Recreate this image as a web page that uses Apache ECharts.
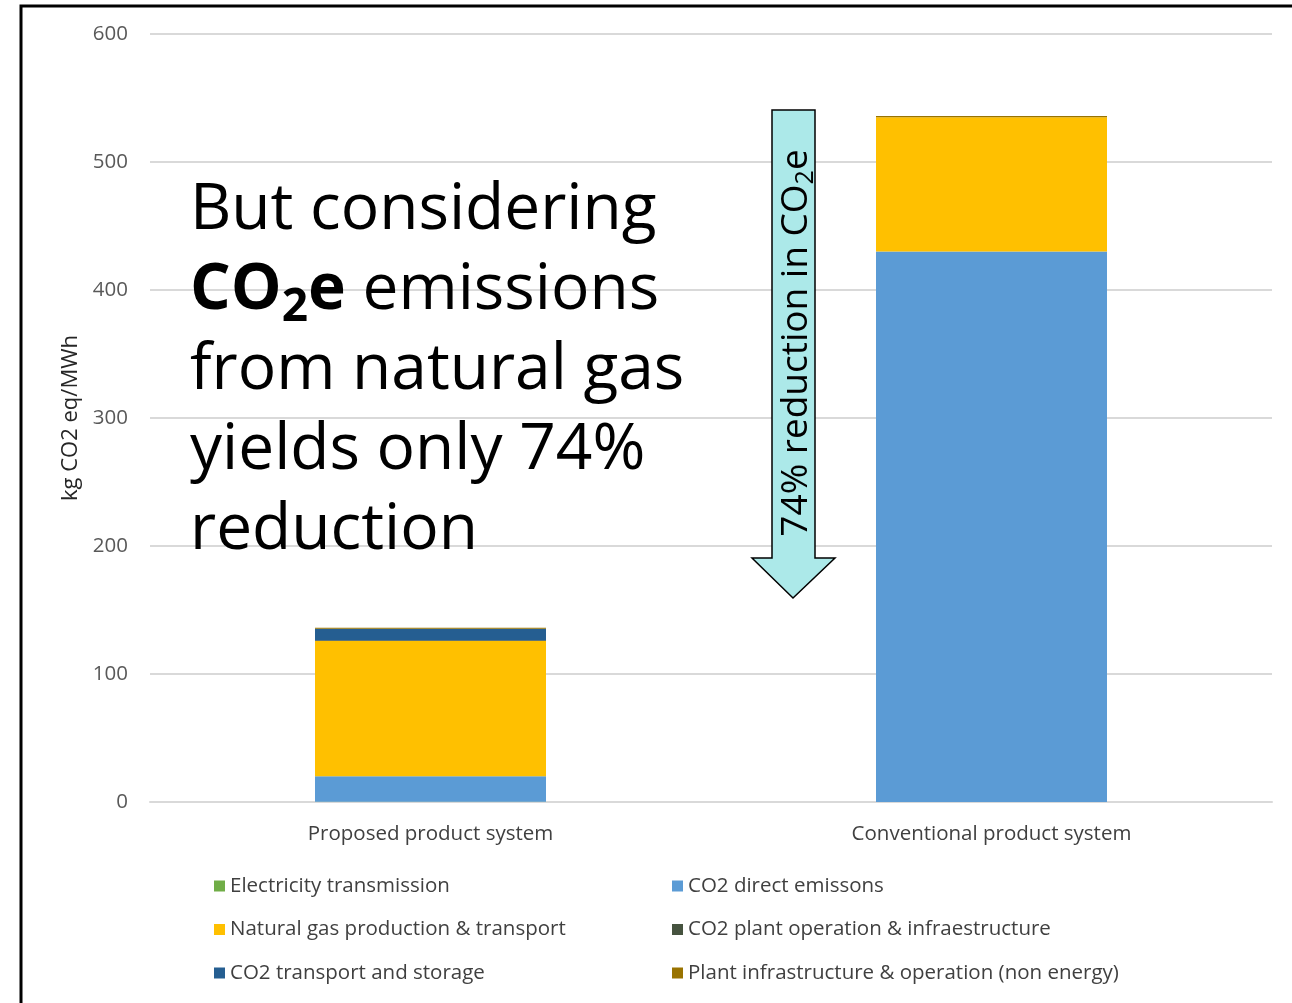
<!DOCTYPE html>
<html>
<head>
<meta charset="utf-8">
<script src="https://cdn.jsdelivr.net/npm/echarts@6/dist/echarts.min.js"></script>
<style>
html,body{margin:0;padding:0;background:#fff;}
#chart{width:1292px;height:1003px;}
</style>
</head>
<body>
<div id="chart"></div>
<script>
var categories = ['Proposed product system', 'Conventional product system'];
var seriesNames = ['Electricity transmission', 'CO2 direct emissons', 'Natural gas production & transport',
  'CO2 plant operation & infraestructure', 'CO2 transport and storage', 'Plant infrastructure & operation (non energy)'];
var electricity = [0.2, 0];
var co2Direct = [20, 430];
var naturalGas = [105.5, 105];
var co2PlantOp = [0.7, 0];
var co2Transport = [9, 0];
var plantInfra = [0.8, 1.0];
var yTicks = [0, 100, 200, 300, 400, 500, 600];
var colors = ['#70AD47', '#5B9BD5', '#FFC000', '#46533F', '#255E91', '#997300'];

var valuesList = [electricity, co2Direct, naturalGas, co2PlantOp, co2Transport, plantInfra];
var FONT = 'Open Sans';

var chart = echarts.init(document.getElementById('chart'));
var series = seriesNames.map(function (n, i) {
  return {
    name: n, type: 'bar', stack: 'total', barWidth: 231,
    itemStyle: { color: colors[i] },
    data: valuesList[i]
  };
});

var option = {
  animation: false,
  backgroundColor: '#fff',
  color: colors,
  grid: { left: 150, right: 20, top: 34, bottom: 201, containLabel: false },
  xAxis: {
    type: 'category', data: categories,
    axisLine: { lineStyle: { color: '#d9d9d9', width: 2 } },
    axisTick: { show: false },
    axisLabel: { color: '#404040', fontSize: 20.5, fontFamily: FONT, margin: 22 }
  },
  yAxis: {
    type: 'value', min: yTicks[0], max: yTicks[yTicks.length - 1], interval: 100,
    name: 'kg CO2 eq/MWh', nameLocation: 'middle', nameGap: 68, nameRotate: 90,
    nameTextStyle: { color: '#262626', fontSize: 22, fontFamily: FONT },
    axisLine: { show: false }, axisTick: { show: false },
    axisLabel: { color: '#595959', fontSize: 20.5, fontFamily: FONT, margin: 22 },
    splitLine: { lineStyle: { color: '#d9d9d9', width: 2 } }
  },
  legend: [
    {
      data: [seriesNames[0], seriesNames[2], seriesNames[4]],
      orient: 'vertical', left: 209, top: 869, itemWidth: 11, itemHeight: 11, itemGap: 19.5, icon: 'rect',
      textStyle: { color: '#404040', fontSize: 20.5, fontFamily: FONT, lineHeight: 24 }
    },
    {
      data: [seriesNames[1], seriesNames[3], seriesNames[5]],
      orient: 'vertical', left: 667, top: 869, itemWidth: 11, itemHeight: 11, itemGap: 19.5, icon: 'rect',
      textStyle: { color: '#404040', fontSize: 20.5, fontFamily: FONT, lineHeight: 24 }
    }
  ],
  series: series,
  graphic: [
    {
      type: 'polyline', z: 100,
      shape: { points: [[21, 1003], [21, 6], [1292, 6]] },
      style: { stroke: '#000', lineWidth: 3, fill: null }
    },
    {
      type: 'polygon', z: 100,
      shape: { points: [[772, 110], [815, 110], [815, 558], [835, 558], [793, 598], [752, 558], [772, 558]] },
      style: { fill: '#ACE9E9', stroke: '#000', lineWidth: 1.5 }
    },
    {
      type: 'text', z: 101, x: 796, y: 343, rotation: Math.PI / 2,
      style: {
        text: '{a|74% reduction in CO}{s|2}{a|e}',
        align: 'center', verticalAlign: 'middle',
        rich: {
          a: { fontSize: 37, fontFamily: FONT, fill: '#000', lineHeight: 44, verticalAlign: 'middle' },
          s: { fontSize: 25, fontFamily: FONT, fill: '#000', lineHeight: 24, verticalAlign: 'bottom' }
        }
      }
    },
    {
      type: 'text', z: 101, x: 190, y: 171,
      style: {
        text: '{a|But considering}\n{b|CO}{bs|2}{b|e}{a| emissions}\n{a|from natural gas}\n{a|yields only 74%}\n{a|reduction}',
        align: 'left', verticalAlign: 'top',
        rich: {
          a: { fontSize: 64, fontFamily: FONT, fill: '#000', lineHeight: 80, verticalAlign: 'middle' },
          b: { fontSize: 64, fontFamily: FONT, fontWeight: 'bold', fill: '#000', lineHeight: 80, verticalAlign: 'middle' },
          bs: { fontSize: 46, fontFamily: FONT, fontWeight: 'bold', fill: '#000', lineHeight: 28, verticalAlign: 'bottom' }
        }
      }
    }
  ]
};
chart.setOption(option);
</script>
</body>
</html>
